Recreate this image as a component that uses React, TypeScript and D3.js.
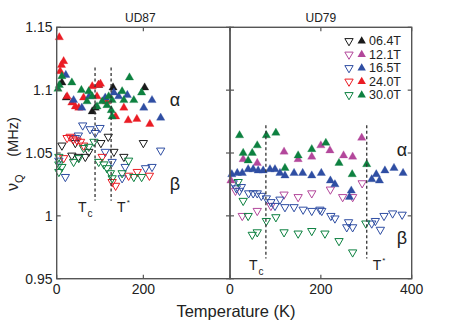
import React, { useRef, useEffect } from 'react';
import * as d3 from 'd3';

const fields = ['06.4T', '12.1T', '16.5T', '24.0T', '30.0T'];
const fieldColors = ['#1a1a1a', '#b3479b', '#2f4ea3', '#ea1c24', '#0d8140'];

// UD87, alpha site (filled up triangles)  [T (K), nu_Q (MHz)]
const ud87Alpha06 = [[12, 1.106], [22, 1.094], [82, 1.083], [89, 1.086], [97, 1.104], [130, 1.102], [203, 1.102]];
const ud87Alpha24 = [[6, 1.142], [16, 1.123], [11, 1.12], [8, 1.115], [24, 1.095], [35, 1.09], [43, 1.087], [51, 1.086], [62, 1.094],
  [82, 1.103], [93, 1.095], [101, 1.105], [96, 1.104], [115, 1.091], [136, 1.079], [155, 1.086], [165, 1.076], [185, 1.077], [215, 1.073]];
const ud87Alpha16 = [[21, 1.112], [39, 1.092], [58, 1.086], [75, 1.095], [112, 1.094], [132, 1.098], [143, 1.095], [163, 1.096],
  [201, 1.086], [220, 1.092], [240, 1.078]];
const ud87Alpha30 = [[12, 1.111], [6, 1.104], [3, 1.101], [35, 1.106], [57, 1.1], [74, 1.099], [82, 1.095], [70, 1.091], [93, 1.087],
  [105, 1.091], [120, 1.095], [116, 1.088], [128, 1.092], [151, 1.099], [155, 1.092], [168, 1.11], [178, 1.092], [196, 1.098],
  [126, 1.084], [128, 1.079]];

// UD87, beta site (open down triangles)
const ud87Beta06 = [[12, 1.056], [43, 1.058], [35, 1.048], [50, 1.047], [66, 1.047], [74, 1.051], [102, 1.058], [119, 1.063],
  [132, 1.051], [155, 1.047], [200, 1.058]];
const ud87Beta24 = [[24, 1.062], [31, 1.063], [38, 1.061], [47, 1.06], [55, 1.059], [62, 1.056], [16, 1.046], [105, 1.047],
  [128, 1.027], [136, 1.024], [166, 1.032], [186, 1.035], [214, 1.032]];
const ud87Beta16 = [[60, 1.072], [77, 1.069], [100, 1.07], [89, 1.066], [50, 1.064], [43, 1.062], [20, 1.031], [5, 1.044],
  [112, 1.051], [128, 1.043], [158, 1.039], [205, 1.038], [220, 1.039], [240, 1.052], [151, 1.03]];
const ud87Beta30 = [[62, 1.054], [74, 1.055], [86, 1.059], [5, 1.047], [5, 1.041], [12, 1.039], [5, 1.035], [39, 1.043], [51, 1.046],
  [97, 1.043], [109, 1.041], [116, 1.038], [124, 1.034], [128, 1.03], [166, 1.044], [151, 1.034], [178, 1.031], [196, 1.031]];

// UD79, alpha site
const ud79Alpha12 = [[2, 1.028], [29, 1.045], [60, 1.042], [119, 1.051], [150, 1.045], [180, 1.047], [200, 1.056], [220, 1.052],
  [250, 1.048], [270, 1.047], [290, 1.062]];
const ud79Alpha16 = [[4, 1.033], [16, 1.034], [27, 1.034], [40, 1.037], [51, 1.037], [62, 1.036], [73, 1.036], [88, 1.037], [99, 1.037],
  [110, 1.034], [121, 1.032], [141, 1.034], [160, 1.034], [180, 1.032], [201, 1.034], [221, 1.028], [231, 1.025], [267, 1.02],
  [263, 1.015], [312, 1.029], [322, 1.033], [329, 1.028], [341, 1.036], [361, 1.038], [381, 1.034]];
const ud79Alpha30 = [[21, 1.064], [80, 1.064], [101, 1.066], [60, 1.056], [49, 1.05], [29, 1.05], [40, 1.044], [121, 1.038],
  [150, 1.048], [180, 1.053], [211, 1.058], [240, 1.042], [269, 1.033], [301, 1.041]];

// UD79, beta site
const ud79Beta12 = [[12, 1.02], [27, 1.0], [60, 1.004], [90, 1.008], [119, 1.017], [150, 1.015], [180, 1.018], [221, 1.021],
  [248, 1.015], [270, 1.015], [291, 1.026]];
const ud79Beta16 = [[7, 1.026], [14, 1.022], [21, 1.02], [25, 1.023], [41, 1.018], [51, 1.018], [60, 1.018], [69, 1.016], [80, 1.014],
  [90, 1.011], [99, 1.008], [110, 1.013], [121, 1.007], [141, 1.007], [161, 1.005], [180, 1.004], [198, 1.005], [202, 1.004],
  [222, 1.0], [231, 0.998], [257, 0.991], [261, 0.995], [270, 0.991], [312, 0.994], [320, 0.996], [331, 0.989], [339, 1.0],
  [358, 1.002], [379, 1.001]];
const ud79Beta30 = [[18, 1.027], [29, 1.012], [40, 1.0], [49, 0.985], [60, 0.987], [80, 0.996], [101, 0.999], [119, 0.987],
  [150, 0.986], [180, 0.988], [209, 0.986], [240, 0.98], [270, 0.971], [299, 0.994]];

const yTicks = [0.95, 1, 1.05, 1.1, 1.15];
const xTicksLeft = [0, 200];
const xTicksRight = [0, 200, 400];

// characteristic temperatures [T, top, bottom]
const ud87Marks = [['c', 88.5, 1.118, 1.012], ['*', 125.6, 1.118, 1.012]];
const ud79Marks = [['c', 79, 1.072, 0.966], ['*', 301, 1.072, 0.966]];

const series = [
  { panel: 0, f: 0, up: false, d: ud87Beta06 }, { panel: 0, f: 2, up: false, d: ud87Beta16 },
  { panel: 0, f: 3, up: false, d: ud87Beta24 }, { panel: 0, f: 4, up: false, d: ud87Beta30 },
  { panel: 0, f: 0, up: true, d: ud87Alpha06 }, { panel: 0, f: 3, up: true, d: ud87Alpha24 },
  { panel: 0, f: 2, up: true, d: ud87Alpha16 }, { panel: 0, f: 4, up: true, d: ud87Alpha30 },
  { panel: 1, f: 1, up: false, d: ud79Beta12 }, { panel: 1, f: 2, up: false, d: ud79Beta16 },
  { panel: 1, f: 4, up: false, d: ud79Beta30 },
  { panel: 1, f: 1, up: true, d: ud79Alpha12 }, { panel: 1, f: 4, up: true, d: ud79Alpha30 },
  { panel: 1, f: 2, up: true, d: ud79Alpha16 },
];

export default function App() {
  const svgRef = useRef(null);

  useEffect(() => {
    const width = 463;
    const height = 324;
    const top = 27.3, bottom = 278.7;
    const xs = [
      d3.scaleLinear().domain([0, 400]).range([56.7, 230]),
      d3.scaleLinear().domain([0, 400]).range([230, 411.7]),
    ];
    const y = d3.scaleLinear().domain([0.95, 1.15]).range([bottom, top]);
    const font = 'Liberation Sans, Arial, Helvetica, sans-serif';
    const axisColor = '#555';
    const textColor = '#222';

    const svg = d3.select(svgRef.current)
      .attr('width', width)
      .attr('height', height)
      .attr('viewBox', [0, 0, width, height])
      .style('font-family', font);
    svg.selectAll('*').remove();

    const tri = d3.symbol(d3.symbolTriangle, 30);

    // markers
    series.forEach(s => {
      const x = xs[s.panel];
      const c = fieldColors[s.f];
      svg.append('g').selectAll('path')
        .data(s.d)
        .join('path')
        .attr('d', tri)
        .attr('transform', d => `translate(${x(d[0])},${y(d[1])})${s.up ? '' : ' rotate(180)'}`)
        .attr('fill', s.up ? c : 'none')
        .attr('stroke', c)
        .attr('stroke-width', s.up ? 0.3 : 1);
    });

    // dashed Tc / T* lines
    [ud87Marks, ud79Marks].forEach((marks, p) => {
      const x = xs[p];
      marks.forEach(m => {
        svg.append('line')
          .attr('x1', x(m[1])).attr('x2', x(m[1]))
          .attr('y1', y(m[2])).attr('y2', y(m[3]))
          .attr('stroke', '#333').attr('stroke-width', 1.3)
          .attr('stroke-dasharray', '3,2.5');
        const lbl = svg.append('text')
          .attr('x', m[0] === 'c' ? x(m[1]) - 17 : x(m[1]) + 6)
          .attr('y', y(m[3]) + 11)
          .attr('font-size', 14)
          .attr('fill', textColor);
        lbl.append('tspan').text('T');
        lbl.append('tspan')
          .attr('font-size', m[0] === 'c' ? 10 : 8)
          .attr('dy', m[0] === 'c' ? 5 : -7)
          .attr('dx', 1)
          .text(m[0]);
      });
    });

    // frames
    xs.forEach(x => {
      svg.append('rect')
        .attr('x', x.range()[0]).attr('y', top)
        .attr('width', x.range()[1] - x.range()[0]).attr('height', bottom - top)
        .attr('fill', 'none').attr('stroke', axisColor).attr('stroke-width', 1.4);
    });

    // y ticks
    const tl = 4;
    yTicks.forEach(t => {
      const yy = y(t);
      [[56.7, tl], [230, -tl], [230, tl], [411.7, -tl]].forEach(([x0, dx]) => {
        svg.append('line').attr('x1', x0).attr('x2', x0 + dx).attr('y1', yy).attr('y2', yy)
          .attr('stroke', axisColor).attr('stroke-width', 1.2);
      });
      svg.append('text')
        .attr('x', 52.5).attr('y', yy)
        .attr('text-anchor', 'end').attr('dominant-baseline', 'central')
        .attr('font-size', 14).attr('fill', textColor)
        .text(d3.format('')(t));
    });

    // x ticks
    [xTicksLeft, xTicksRight].forEach((ticks, p) => {
      const x = xs[p];
      ticks.forEach(t => {
        [[bottom, -tl], [top, tl]].forEach(([y0, dy]) => {
          svg.append('line').attr('x1', x(t)).attr('x2', x(t)).attr('y1', y0).attr('y2', y0 + dy)
            .attr('stroke', axisColor).attr('stroke-width', 1.2);
        });
        svg.append('text')
          .attr('x', x(t)).attr('y', bottom + 15)
          .attr('text-anchor', 'middle')
          .attr('font-size', 14).attr('fill', textColor)
          .text(t);
      });
    });

    // panel titles
    [['UD87', 0], ['UD79', 1]].forEach(([name, p]) => {
      svg.append('text')
        .attr('x', xs[p].range()[0] + (xs[p].range()[1] - xs[p].range()[0]) / 2 + (p ? 0 : -3))
        .attr('y', 22)
        .attr('text-anchor', 'middle')
        .attr('font-size', 12).attr('fill', textColor)
        .text(name);
    });

    // site labels
    [['α', 175, 1.092], ['β', 175, 1.025], ['α', 402, 1.052], ['β', 402, 0.982]].forEach(([t, x0, v]) => {
      svg.append('text')
        .attr('x', x0).attr('y', y(v))
        .attr('text-anchor', 'middle').attr('dominant-baseline', 'central')
        .attr('font-size', 18).attr('fill', textColor)
        .text(t);
    });

    // axis titles
    svg.append('text')
      .attr('x', 236).attr('y', 317)
      .attr('text-anchor', 'middle')
      .attr('font-size', 16.5).attr('fill', textColor)
      .text('Temperature (K)');

    svg.append('text')
      .attr('transform', 'translate(18,137) rotate(-90)')
      .attr('text-anchor', 'middle')
      .attr('font-size', 14.5).attr('fill', textColor)
      .text('(MHz)');
    const nu = svg.append('text')
      .attr('transform', 'translate(18,191) rotate(-90)')
      .attr('font-size', 16).attr('fill', textColor);
    nu.append('tspan').text('ν');
    nu.append('tspan').attr('font-size', 11).attr('dy', 5).text('Q');

    // legend
    const lg = svg.append('g');
    fields.forEach((f, i) => {
      const ly = 41 + i * 13.5;
      lg.append('path').attr('d', tri)
        .attr('transform', `translate(349,${ly}) rotate(180)`)
        .attr('fill', 'none').attr('stroke', fieldColors[i]).attr('stroke-width', 1);
      lg.append('path').attr('d', tri)
        .attr('transform', `translate(361.7,${ly})`)
        .attr('fill', fieldColors[i]);
      lg.append('text')
        .attr('x', 369).attr('y', ly)
        .attr('dominant-baseline', 'central')
        .attr('font-size', 12.5).attr('fill', textColor)
        .text(f);
    });
  }, []);

  return (
    <div>
      <svg ref={svgRef} style={{ position: 'absolute', left: 0, top: 0 }}></svg>
    </div>
  );
}
